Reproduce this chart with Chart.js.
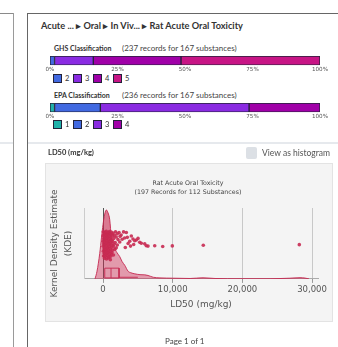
<!DOCTYPE html>
<html>
<head>
<meta charset="utf-8">
<script src="https://cdn.jsdelivr.net/npm/chart.js@4.4.0/dist/chart.umd.min.js"></script>
<style>
  body { margin: 0; width: 338px; height: 347px; overflow: hidden; background: #fff; position: relative; font-family: Lato, sans-serif; color: #333; }
  .t { position: absolute; white-space: nowrap; line-height: 10px; }
  .ln { position: absolute; }
  .legend { position: absolute; left: 53px; display: flex; font-size: 7.5px; line-height: 9px; color: #333; }
  .legend span.item { display: flex; align-items: center; width: 20px; }
  .legend span.sw { width: 7px; height: 7px; border: 1px solid #23233a; margin-right: 3px; }
  canvas { position: absolute; }
  #panel { position: absolute; left: 45px; top: 163px; width: 286px; height: 157px; background: #f4f4f4; border: 1px solid #e3e3e3; }
</style>
</head>
<body>
<!-- panel frames -->
<div class="ln" style="left:0;top:13px;width:14px;height:1px;background:#8a8a8a"></div>
<div class="ln" style="left:13px;top:13px;width:1px;height:334px;background:#9a9a9a"></div>
<div class="ln" style="left:0;top:142px;width:13px;height:2px;background:#e6e9ed"></div>
<div class="ln" style="left:27px;top:13px;width:311px;height:1px;background:#666"></div>
<div class="ln" style="left:27px;top:13px;width:1px;height:334px;background:#666"></div>
<div class="ln" style="left:28px;top:142px;width:310px;height:2px;background:#e6e9ed"></div>

<div class="t" style="left:41px;top:20px;font-size:9.2px;font-weight:700;line-height:11px">Acute ... ▸ Oral ▸ In Viv... ▸ Rat Acute Oral Toxicity</div>

<div class="t" style="left:54px;top:43px;font-size:7px;font-weight:700">GHS Classification</div>
<div class="t" style="left:122px;top:43px;font-size:8px;color:#444">(237 records for 167 substances)</div>
<canvas id="ghsBar" width="295" height="20" style="left:40px;top:54px;width:295px;height:20px"></canvas>
<div class="legend" id="ghsLegend" style="top:74px"></div>

<div class="t" style="left:54px;top:90px;font-size:7px;font-weight:700">EPA Classification</div>
<div class="t" style="left:122px;top:90px;font-size:8px;color:#444">(236 records for 167 substances)</div>
<canvas id="epaBar" width="295" height="20" style="left:40px;top:101px;width:295px;height:20px"></canvas>
<div class="legend" id="epaLegend" style="top:120px"></div>

<div class="t" style="left:48px;top:148px;font-size:7.5px;font-weight:700">LD50 (mg/kg)</div>
<div class="ln" style="left:246px;top:147px;width:11px;height:12px;background:#dce0e5;border-radius:2px"></div>
<div class="t" style="left:262px;top:148px;font-size:8.5px;color:#555">View as histogram</div>

<div id="panel"></div>
<canvas id="kde" width="288" height="159" style="left:45px;top:163px;width:288px;height:159px"></canvas>

<div class="t" style="left:165px;top:336px;font-size:8px;color:#444">Page 1 of 1</div>

<script>
// GHS classification, records per category (237 records)
const ghsCategories = ['2', '3', '4', '5'];
const ghsCounts = [4, 34, 77, 122];
// EPA classification, records per category (236 records)
const epaCategories = ['1', '2', '3', '4'];
const epaCounts = [4, 40, 130, 62];
const pctTicks = [0, 25, 50, 75, 100];

// kernel density of LD50 (mg/kg), density scaled x1e-4
const kdeX = [-1150, -860, -475, -215, 0, 245, 475, 720, 964, 1194, 1583, 2014, 2400, 2734, 3122, 3597, 4020, 4561, 5310, 6000, 6460, 7220, 8180, 10050, 12500, 14350, 16080, 19660, 23970, 26840, 28280, 29000, 29570];
const kdeY = [0, 0.38, 1.25, 2.06, 2.68, 3.2, 3.4, 3.26, 2.92, 2.06, 1.58, 1.29, 1.1, 0.86, 0.67, 0.38, 0.3, 0.25, 0.21, 0.2, 0.17, 0.08, 0.05, 0.035, 0.02, 0.055, 0.02, 0.01, 0.01, 0.035, 0.06, 0.04, 0];
// box plot: q1, median, q3, upper whisker
const boxStats = [250, 1150, 2300, 5000];
const ldTicks = [0, 10000, 20000, 30000];
// individual records: [LD50 mg/kg, jitter]
const ld50Points = [
  [40, 2.33], [260, 2.30], [470, 2.35], [700, 2.28], [930, 2.34], [1180, 2.31], [1450, 2.26], [1800, 2.33], [2300, 2.29], [2950, 2.32],
  [130, 2.21], [350, 2.25], [590, 2.18], [810, 2.24], [1060, 2.19], [1320, 2.22], [1650, 2.15], [2050, 2.23], [2600, 2.17],
  [20, 2.12], [220, 2.08], [450, 2.14], [680, 2.06], [900, 2.11], [1150, 2.04], [1400, 2.13], [1900, 2.07], [2450, 2.10], [3100, 2.02],
  [100, 1.98], [330, 1.95], [560, 2.00], [780, 1.92], [1020, 1.97], [1260, 1.91], [1550, 1.99], [2150, 1.94], [2750, 1.96],
  [10, 1.86], [200, 1.83], [420, 1.88], [640, 1.81], [870, 1.85], [1110, 1.79], [1380, 1.84], [1750, 1.80], [2400, 1.82],
  [90, 1.73], [300, 1.70], [520, 1.75], [750, 1.68], [980, 1.72], [1230, 1.66], [1600, 1.71], [2050, 1.67],
  [30, 1.61], [240, 1.58], [460, 1.63], [690, 1.55], [920, 1.60], [1190, 1.56], [1480, 1.62], [1900, 1.54],
  [150, 1.49], [370, 1.45], [600, 1.50], [830, 1.43], [1080, 1.47], [1350, 1.42], [1700, 1.46],
  [60, 1.37], [280, 1.34], [510, 1.39], [740, 1.31], [990, 1.35], [1280, 1.30],
  [170, 1.25], [400, 1.22], [640, 1.27], [890, 1.19], [1150, 1.23], [1500, 1.18],
  [80, 1.13], [320, 1.10], [560, 1.15], [820, 1.08], [1100, 1.12],
  [230, 1.02], [500, 0.98], [780, 1.03], [1050, 0.95],
  [3344, 2.29], [3488, 2.05], [3832, 1.86], [4062, 2.12], [4306, 1.97], [4550, 1.88], [4780, 1.92], [5024, 2.00], [5268, 1.81], [5497, 1.76],
  [5985, 1.73], [6215, 1.64], [6459, 1.62], [7421, 1.64], [8569, 1.60], [9947, 1.63], [14396, 1.66], [28176, 1.69],
  [3600, 1.75], [3950, 1.62], [4400, 1.70], [3200, 1.55]
];

const classColors = { '1': '#20b2aa', '2': '#4169e1', '3': '#8a2be2', '4': '#a000a8', '5': '#c71585' };

Chart.defaults.font.family = 'DejaVu Sans';

function classBar(id, legendId, cats, counts) {
  const total = counts.reduce((a, b) => a + b, 0);
  new Chart(document.getElementById(id), {
    type: 'bar',
    data: {
      labels: [''],
      datasets: cats.map((c, i) => ({
        label: c,
        data: [counts[i] / total * 100],
        backgroundColor: classColors[c],
        borderColor: '#23233a',
        borderWidth: 1,
        borderSkipped: false,
        barPercentage: 1,
        categoryPercentage: 1
      }))
    },
    options: {
      indexAxis: 'y',
      responsive: false,
      animation: false,
      devicePixelRatio: 1,
      layout: { padding: { left: 10, right: 15, top: 2, bottom: 0 } },
      plugins: { legend: { display: false }, tooltip: { enabled: false } },
      scales: {
        x: {
          stacked: true, min: 0, max: 100,
          afterBuildTicks: s => { s.ticks = pctTicks.map(v => ({ value: v })); },
          grid: { display: false, drawTicks: false },
          border: { display: false },
          ticks: { padding: 1, color: '#555', font: { size: 5.6 }, maxRotation: 0, callback: v => v + '%' }
        },
        y: { stacked: true, display: false }
      }
    }
  });
  // html legend
  const lg = document.getElementById(legendId);
  cats.forEach(c => {
    const item = document.createElement('span');
    item.className = 'item';
    item.innerHTML = '<span class="sw" style="background:' + classColors[c] + '"></span>' + c;
    lg.appendChild(item);
  });
}

classBar('ghsBar', 'ghsLegend', ghsCategories, ghsCounts);
classBar('epaBar', 'epaLegend', epaCategories, epaCounts);

// density chart
const kdeData = kdeX.map((x, i) => ({ x: x, y: kdeY[i] }));
const peakData = kdeData.filter(p => p.x >= 0 && p.x <= 1194);
const [q1, med, q3, whisk] = boxStats;
const boxLo = 0.05, boxHi = 0.53;
const red = 'rgba(196,40,80,0.9)';

new Chart(document.getElementById('kde'), {
  type: 'scatter',
  data: {
    datasets: [
      { data: ld50Points.map(p => ({ x: p[0], y: p[1] })), pointRadius: 1.8, pointBackgroundColor: 'rgba(200,42,82,0.9)', pointBorderWidth: 0, order: 0 },
      { data: [{ x: q1, y: boxLo }, { x: q1, y: boxHi }, { x: q3, y: boxHi }, { x: q3, y: boxLo }, { x: q1, y: boxLo }],
        showLine: true, borderColor: red, borderWidth: 1, pointRadius: 0, fill: false, order: 1 },
      { data: [{ x: med, y: boxLo }, { x: med, y: boxHi }], showLine: true, borderColor: red, borderWidth: 1, pointRadius: 0, order: 1 },
      { data: [{ x: q3, y: boxLo + 0.03 }, { x: whisk, y: boxLo + 0.03 }], showLine: true, borderColor: red, borderWidth: 1, pointRadius: 0, order: 1 },
      { data: peakData, showLine: true, tension: 0.4, cubicInterpolationMode: 'monotone', borderWidth: 0, pointRadius: 0,
        fill: { value: 2.0 }, backgroundColor: 'rgba(200,40,80,0.28)', order: 2 },
      { data: kdeData, showLine: true, tension: 0.4, cubicInterpolationMode: 'monotone', borderColor: red, borderWidth: 1, pointRadius: 0,
        fill: 'origin', backgroundColor: 'rgba(205,45,85,0.45)', order: 3 }
    ]
  },
  options: {
    responsive: false,
    animation: false,
    devicePixelRatio: 1,
    layout: { padding: { left: 13, right: 15, top: 15.5, bottom: 7.6 } },
    plugins: {
      legend: { display: false },
      tooltip: { enabled: false },
      title: {
        display: true,
        text: ['Rat Acute Oral Toxicity', '(197 Records for 112 Substances)'],
        color: '#444',
        font: { size: 6.3, weight: 'normal', lineHeight: '9px' },
        padding: { top: 0, bottom: 11.5 }
      }
    },
    scales: {
      x: {
        type: 'linear', min: -2730, max: 30860,
        afterBuildTicks: s => { s.ticks = ldTicks.map(v => ({ value: v })); },
        grid: { color: ctx => (ctx.tick && ctx.tick.value === 0) ? '#555' : '#c8c8c8', tickLength: 4, tickColor: '#999' },
        border: { color: '#aaa' },
        ticks: { padding: 2, color: '#555', font: { size: 8.5 }, maxRotation: 0, callback: v => v.toLocaleString('en-US') },
        title: { display: true, text: 'LD50 (mg/kg)', color: '#555', font: { size: 9 }, padding: { top: 2.5, bottom: 4 } }
      },
      y: {
        min: 0, max: 3.5,
        grid: { display: false, drawTicks: false },
        border: { color: '#ccc' },
        ticks: { display: false },
        title: { display: true, text: ['Kernel Density Estimate', '(KDE)'], color: '#555', font: { size: 9, lineHeight: '14px' }, padding: { top: -10, bottom: 8 } }
      }
    }
  }
});
</script>
</body>
</html>
